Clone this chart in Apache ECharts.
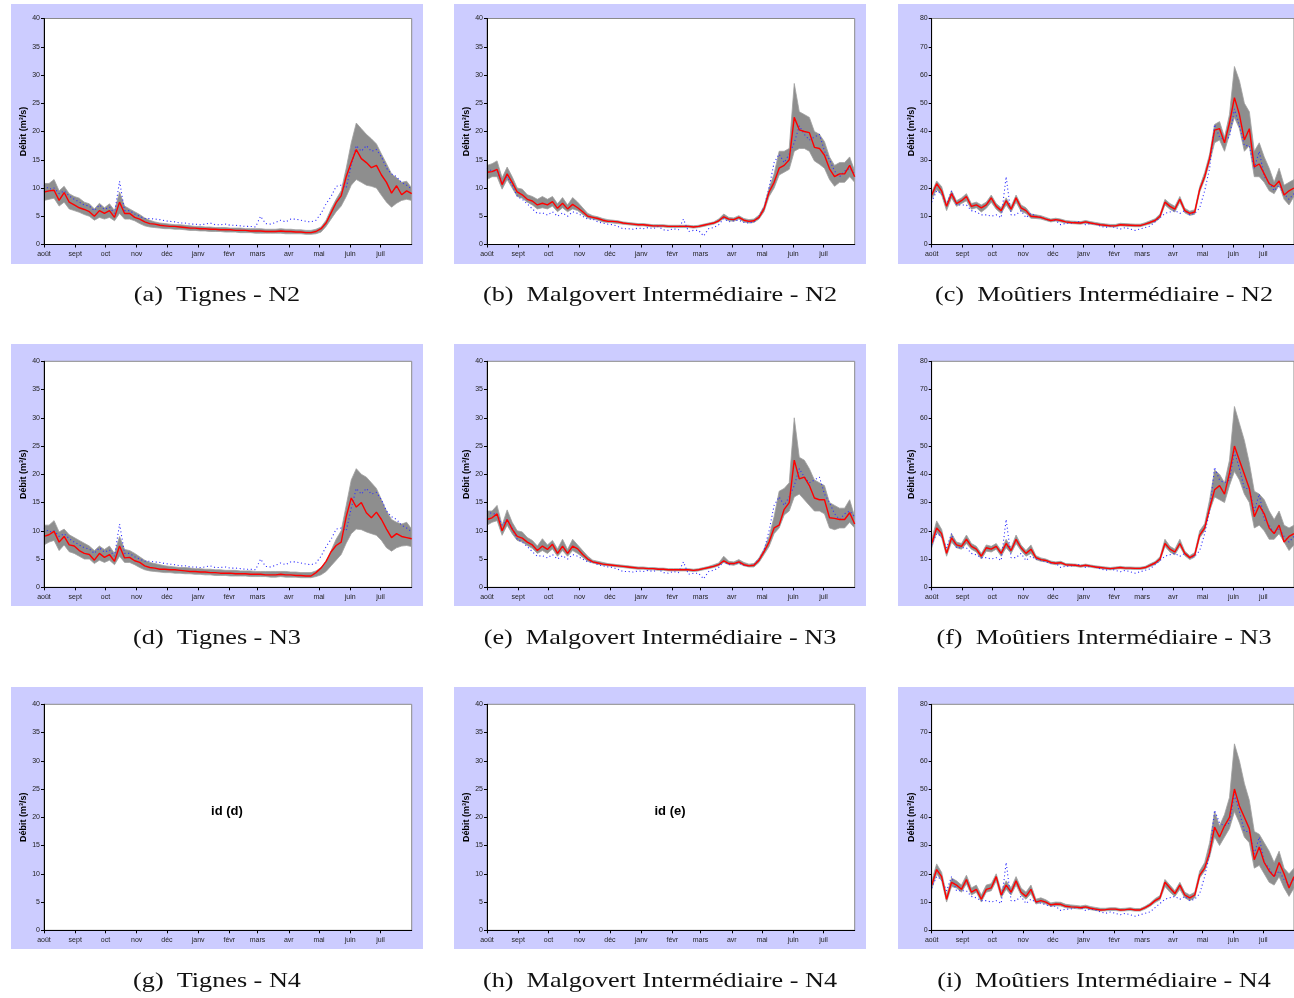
<!DOCTYPE html>
<html><head><meta charset="utf-8">
<script src="https://cdn.jsdelivr.net/npm/echarts@6/dist/echarts.min.js"></script>
<style>html,body{margin:0;padding:0;background:#fff}#c{width:1294px;height:998px}</style>
</head><body><div id="c"></div>
<script>
// sample days (day 0 = 1 août)
const days = [0,5,10,15,20,25,30,35,40,45,50,55,60,65,70,75,80,85,90,95,
100,105,110,115,120,125,130,135,140,145,150,155,160,165,170,175,180,185,190,195,
200,205,210,215,220,225,230,235,240,245,250,255,260,265,270,275,280,285,290,295,
300,305,310,315,320,325,330,335,340,345,350,355,360,365];
const monthNames = ['août','sept','oct','nov','déc','janv','févr','mars','avr','mai','juin','juil'];
const monthStarts = [0,31,61,92,122,153,184,212,243,273,304,334];
const yTicks40 = [0,5,10,15,20,25,30,35,40];
const yTicks80 = [0,10,20,30,40,50,60,70,80];

// ---- Tignes ----
const tigObs = [10.5,9.8,10.0,9.0,9.5,8.6,8.0,7.5,7.0,6.8, 6.0,7.0,6.2,6.6,5.5,11.2,6.0,6.0,5.4,5.0,
4.6,4.6,4.5,4.4,4.2,4.1,4.0,3.8,3.8,3.6, 3.6,3.5,3.6,3.8,3.5,3.5,3.6,3.4,3.4,3.3,
3.2,3.2,3.1,5.0,3.7,3.6,3.9,4.3,4.0,4.5, 4.5,4.3,4.1,4.0,4.3,5.5,7.2,8.5,10.3,10.5,
10.0,14.0,17.5,16.5,17.5,16.5,16.8,15.5,13.5,12.5, 12.0,11.0,10.5,9.8];
const tigN2Mod = [9.3,9.5,9.6,7.8,9.2,7.5,7.0,6.5,6.2,5.8, 5.0,6.0,5.5,6.0,4.8,7.5,5.5,5.5,4.8,4.5,
4.0,3.7,3.6,3.4,3.3,3.2,3.2,3.1,3.0,2.9, 2.9,2.8,2.8,2.7,2.7,2.6,2.6,2.6,2.5,2.5,
2.5,2.4,2.4,2.4,2.3,2.3,2.3,2.4,2.3,2.3, 2.2,2.2,2.1,2.1,2.3,2.8,3.8,5.6,7.4,8.6,
12.0,14.5,16.8,15.2,14.5,13.6,14.0,12.3,11.0,9.1, 10.4,8.8,9.5,9.0];
const tigN2Low = [7.8,8.0,8.2,6.8,7.5,6.3,6.0,5.7,5.3,5.0, 4.3,4.8,4.5,4.8,4.2,5.5,4.5,4.5,4.2,3.7,
3.3,3.1,3.0,2.9,2.8,2.8,2.7,2.7,2.6,2.5, 2.5,2.4,2.4,2.3,2.3,2.3,2.2,2.2,2.2,2.1,
2.1,2.1,2.0,2.0,2.0,2.0,2.0,2.0,1.9,1.9, 1.9,1.9,1.8,1.8,1.9,2.2,3.2,4.5,5.8,6.8,
8.5,10.5,11.5,11.0,10.5,10.3,10.0,8.7,7.5,6.6, 7.3,7.8,8.0,7.8];
const tigN2High = [10.8,10.8,11.5,9.5,10.3,9.0,8.5,8.2,7.5,7.2, 6.3,7.3,6.5,7.2,6.0,9.3,6.8,6.3,5.8,5.3,
4.7,4.3,4.0,3.8,3.7,3.6,3.5,3.5,3.4,3.3, 3.2,3.2,3.1,3.1,3.0,3.0,3.0,2.9,2.9,2.9,
2.8,2.8,2.8,2.8,2.7,2.7,2.7,2.8,2.7,2.7, 2.6,2.6,2.5,2.5,2.7,3.1,4.3,6.3,8.0,9.5,
13.5,18.0,21.5,20.5,19.5,18.7,17.8,16.0,14.3,12.5, 11.8,11.0,11.2,10.0];
const tigN3Mod = [9.0,9.3,9.9,8.0,9.0,7.5,7.3,6.5,6.0,5.8, 4.8,6.0,5.3,5.8,4.6,7.3,5.2,5.3,4.7,4.4,
3.8,3.5,3.4,3.2,3.2,3.1,3.1,3.0,2.9,2.8, 2.8,2.7,2.7,2.6,2.6,2.5,2.5,2.5,2.4,2.4,
2.4,2.3,2.3,2.3,2.2,2.2,2.2,2.3,2.2,2.2, 2.1,2.1,2.0,2.0,2.6,3.4,4.6,6.3,7.4,8.0,
12.5,15.8,14.2,15.0,13.2,12.3,13.3,12.0,10.3,8.8, 9.5,9.0,8.8,8.6];
const tigN3Low = [7.5,8.0,8.3,6.5,7.5,6.3,6.0,5.5,5.0,5.0, 4.2,4.8,4.4,4.8,4.0,5.5,4.4,4.4,4.0,3.5,
3.1,2.9,2.8,2.7,2.6,2.6,2.5,2.5,2.4,2.4, 2.3,2.3,2.2,2.2,2.1,2.1,2.1,2.0,2.0,2.0,
2.0,1.9,1.9,1.9,1.9,1.8,1.8,1.9,1.8,1.8, 1.8,1.7,1.7,1.7,1.9,2.2,2.8,3.8,4.8,5.8,
7.8,9.5,10.3,10.2,9.8,9.5,9.2,8.3,7.0,6.4, 7.0,7.3,7.4,7.2];
const tigN3High = [11.0,11.0,11.8,9.8,10.3,9.3,8.8,8.3,7.8,7.3, 6.5,7.3,6.7,7.3,6.0,9.0,6.7,6.5,6.0,5.4,
4.8,4.4,4.2,4.0,3.8,3.7,3.6,3.5,3.5,3.4, 3.3,3.3,3.2,3.2,3.1,3.1,3.0,3.0,3.0,2.9,
2.9,2.9,2.8,2.8,2.8,2.8,2.8,2.8,2.8,2.7, 2.7,2.6,2.6,2.6,2.9,3.5,4.6,6.5,8.5,10.0,
14.5,19.0,21.0,20.0,19.5,18.5,17.5,15.5,13.5,12.0, 11.5,11.2,11.5,10.3];

// ---- Malgovert Intermédiaire ----
const malObs = [13.5,13.0,13.0,11.0,12.0,10.5,8.5,8.0,7.2,6.3, 5.5,5.6,5.2,5.8,5.0,5.6,5.0,5.8,5.5,5.0,
4.5,4.5,4.0,3.8,3.6,3.5,3.2,2.8,2.8,2.7, 2.9,2.8,3.0,2.8,3.2,2.6,2.5,2.8,2.6,4.5,
2.3,2.5,2.5,1.5,2.8,3.0,3.5,4.6,4.0,4.2, 4.3,3.9,3.8,4.0,5.0,6.5,10.0,14.5,16.0,14.5,
16.0,18.0,21.0,19.5,18.5,19.0,19.5,16.5,15.0,13.0, 12.0,13.0,13.5,12.5];
const malN2Mod = [12.8,12.9,13.3,10.6,12.5,11.0,9.3,8.8,8.0,7.7, 7.0,7.3,7.0,7.6,6.4,7.3,6.3,7.1,6.5,5.8,
5.0,4.8,4.6,4.3,4.1,4.1,4.0,3.8,3.7,3.6, 3.5,3.5,3.4,3.3,3.3,3.3,3.2,3.2,3.2,3.2,
3.2,3.1,3.2,3.4,3.6,3.8,4.2,4.9,4.5,4.4, 4.8,4.3,4.1,4.2,4.8,6.3,9.3,11.0,13.5,14.0,
15.0,22.5,20.3,20.0,19.8,17.2,17.0,15.8,13.4,12.0, 12.5,12.5,14.0,12.0];
const malN2Low = [11.5,12.0,12.0,9.8,11.5,10.0,8.5,8.2,7.5,7.0, 6.3,6.5,6.3,6.8,5.8,6.5,5.8,6.3,6.0,5.3,
4.7,4.5,4.3,4.0,3.9,3.8,3.7,3.6,3.5,3.4, 3.3,3.3,3.2,3.1,3.1,3.1,3.0,3.0,3.0,3.0,
3.0,2.9,3.0,3.2,3.4,3.6,4.0,4.6,4.2,4.1, 4.5,4.0,3.8,3.9,4.5,5.8,8.5,10.0,12.3,12.8,
13.3,16.5,17.0,17.0,16.5,14.8,14.2,13.5,11.5,10.3, 11.0,11.0,12.0,11.0];
const malN2High = [14.0,14.3,14.8,11.8,13.7,12.0,10.0,9.8,8.8,8.5, 8.0,8.5,8.0,8.5,7.2,8.3,7.0,8.3,7.5,6.5,
5.5,5.1,4.9,4.6,4.4,4.3,4.2,4.0,3.9,3.8, 3.7,3.7,3.6,3.5,3.5,3.5,3.4,3.4,3.4,3.4,
3.4,3.3,3.4,3.6,3.8,4.0,4.5,5.4,4.8,4.7, 5.1,4.6,4.4,4.5,5.2,6.8,10.0,12.5,16.5,16.5,
17.0,28.5,23.5,23.0,22.5,20.0,19.5,18.2,15.5,14.0, 14.5,14.5,15.5,13.0];
const malN3Mod = [12.0,12.3,13.0,10.0,12.0,10.3,9.0,8.7,8.0,7.5, 6.5,7.3,6.7,7.6,6.0,7.3,6.0,7.3,6.8,5.8,
5.0,4.5,4.3,4.1,4.0,3.9,3.8,3.7,3.6,3.5, 3.4,3.4,3.3,3.3,3.2,3.2,3.1,3.1,3.1,3.1,
3.1,3.0,3.1,3.3,3.5,3.7,4.0,4.7,4.2,4.2, 4.5,4.0,3.8,3.9,4.8,6.3,8.0,10.5,11.0,13.8,
15.0,22.5,19.2,19.5,18.0,15.8,15.5,15.5,12.3,12.2, 12.0,12.0,13.2,11.2];
const malN3Low = [11.0,11.5,11.8,9.2,11.0,9.5,8.3,8.0,7.4,6.9, 6.0,6.5,6.0,6.8,5.5,6.5,5.5,6.5,6.0,5.3,
4.6,4.3,4.1,3.9,3.8,3.7,3.6,3.5,3.4,3.3, 3.2,3.2,3.1,3.1,3.0,3.0,2.9,2.9,2.9,2.9,
2.9,2.8,2.9,3.1,3.3,3.5,3.8,4.4,4.0,3.9, 4.2,3.8,3.6,3.6,4.4,5.8,7.2,9.5,10.5,12.8,
13.5,16.0,16.5,15.5,14.5,13.5,13.5,13.0,10.5,10.2, 10.5,10.5,11.5,10.5];
const malN3High = [13.5,13.5,14.5,11.0,13.7,11.5,10.0,9.8,8.8,8.3, 7.3,8.6,7.5,8.3,6.8,8.5,6.7,8.5,7.5,6.5,
5.5,4.8,4.6,4.4,4.2,4.1,4.0,3.9,3.8,3.7, 3.6,3.6,3.5,3.5,3.4,3.4,3.3,3.3,3.3,3.3,
3.3,3.2,3.3,3.5,3.7,4.0,4.3,5.5,4.6,4.5, 4.9,4.4,4.1,4.2,5.2,6.8,9.0,12.5,17.0,17.5,
18.5,30.0,23.0,22.5,21.0,19.0,18.5,18.0,15.0,14.5, 14.0,14.0,15.5,12.5];

// ---- Moûtiers Intermédiaire ----
const mouObs = [15.0,19.0,18.0,14.0,19.0,14.0,14.0,14.0,12.0,11.5, 10.5,10.5,10.0,10.5,9.5,24.0,10.5,10.5,12.0,9.5,
11.0,10.0,9.6,9.0,8.5,8.5,7.0,7.5,7.5,8.0, 8.0,7.0,7.5,7.2,6.5,6.0,6.5,6.0,5.5,6.0,
5.5,5.0,5.5,6.0,6.5,8.0,9.5,11.0,11.5,12.0, 11.0,12.0,10.5,11.0,13.0,19.0,27.0,42.5,38.0,37.0,
38.0,48.0,42.0,35.0,35.0,27.0,33.0,24.0,22.0,19.0, 21.0,18.0,16.0,18.0];
const mouN2Mod = [17.5,21.5,19.0,13.5,18.0,14.5,15.5,17.0,13.5,14.0, 13.0,14.0,16.5,13.5,12.0,15.5,12.5,16.5,13.0,12.0,
10.0,9.8,9.6,9.0,8.5,8.8,8.5,8.0,7.8,7.7, 7.6,8.0,7.6,7.3,7.0,6.8,6.6,6.6,7.0,6.9,
6.8,6.7,6.7,7.2,7.8,8.5,10.0,15.0,13.5,12.5, 16.0,12.0,11.0,11.5,19.5,24.0,30.5,40.5,41.0,36.0,
43.0,52.0,46.0,37.0,41.0,27.5,28.5,25.0,21.5,20.5, 22.5,17.5,19.0,20.0];
const mouN2Low = [16.0,19.5,17.5,12.0,16.5,13.5,14.5,15.5,12.5,13.0, 11.5,12.8,15.0,12.5,11.0,14.0,11.5,15.0,11.8,11.0,
9.3,9.2,9.0,8.5,8.0,8.3,8.0,7.6,7.4,7.3, 7.2,7.5,7.2,6.9,6.6,6.4,6.2,6.2,6.6,6.5,
6.4,6.3,6.3,6.8,7.3,8.0,9.3,14.0,12.5,11.5, 15.0,11.2,10.3,10.7,18.5,23.0,29.0,36.0,37.0,33.0,
39.0,45.0,41.0,33.0,35.0,24.0,24.0,22.0,19.0,18.0, 21.0,16.0,14.0,17.0];
const mouN2High = [18.5,22.5,20.5,14.5,19.0,15.5,16.5,18.0,14.5,15.0, 14.0,15.0,17.5,14.5,13.0,16.5,13.5,17.5,14.0,13.0,
10.8,10.5,10.2,9.6,9.0,9.3,9.0,8.5,8.3,8.2, 8.1,8.5,8.1,7.8,7.5,7.3,7.1,7.1,7.5,7.4,
7.3,7.2,7.2,7.7,8.4,9.1,10.8,16.0,14.5,13.5, 17.0,12.8,11.8,12.3,20.5,25.5,32.0,42.5,43.5,38.0,
46.0,63.0,58.0,50.0,47.0,33.0,36.0,31.0,27.0,22.0, 27.0,21.0,22.0,23.0];
const mouN3Mod = [15.5,21.0,19.0,12.0,17.5,15.0,14.5,17.0,14.5,13.5, 11.0,14.0,13.5,14.5,12.0,15.5,13.0,17.0,14.0,12.0,
13.5,10.5,9.8,9.5,8.8,8.5,8.7,8.0,7.9,7.8, 7.5,7.8,7.5,7.2,7.0,6.8,6.6,6.8,7.0,6.8,
6.8,6.7,6.7,7.0,7.8,8.6,10.0,15.5,13.5,12.5, 15.5,12.0,10.5,11.5,18.5,21.0,28.0,34.5,36.0,33.0,
40.5,50.0,45.0,40.0,35.0,25.0,29.0,26.0,21.0,19.0, 22.0,16.0,18.0,19.0];
const mouN3Low = [14.0,19.5,17.5,11.0,16.0,14.0,13.5,15.5,13.5,12.5, 10.0,12.8,12.5,13.5,11.0,14.0,12.0,15.5,13.0,11.0,
12.0,9.8,9.2,9.0,8.3,8.0,8.2,7.6,7.5,7.4, 7.1,7.4,7.1,6.8,6.6,6.4,6.2,6.4,6.6,6.4,
6.4,6.3,6.3,6.6,7.3,8.1,9.3,14.5,12.5,11.5, 14.5,11.2,9.8,10.7,17.5,20.0,27.0,32.0,31.0,30.0,
36.0,41.0,38.0,33.0,30.0,21.0,22.0,20.0,17.0,17.0, 19.0,16.0,13.0,15.0];
const mouN3High = [17.0,23.5,20.5,13.0,19.0,16.0,15.5,18.5,15.5,14.5, 12.0,15.0,14.5,15.5,13.0,17.0,14.0,18.5,15.0,13.0,
15.0,11.2,10.4,10.0,9.3,9.0,9.2,8.4,8.3,8.2, 7.9,8.2,7.9,7.6,7.4,7.2,7.0,7.2,7.4,7.2,
7.2,7.1,7.1,7.4,8.3,9.1,10.8,17.0,14.5,13.5, 17.0,12.8,11.2,12.3,20.0,22.5,31.0,41.5,40.0,37.0,
45.0,64.0,58.0,52.0,44.0,34.0,33.0,31.0,27.0,24.0, 27.0,22.0,21.0,22.0];
const mouN4Mod = [16.0,21.5,19.0,11.0,17.0,16.0,14.5,18.0,13.5,14.5, 11.0,14.5,15.0,19.0,12.5,16.0,13.5,17.5,13.5,12.0,
14.5,10.0,10.5,10.0,9.0,9.3,9.2,8.5,8.3,8.2, 8.0,8.3,7.8,7.5,7.2,7.3,7.5,7.5,7.2,7.3,
7.5,7.2,7.2,8.0,9.0,10.5,11.5,17.0,15.0,13.0, 16.0,12.5,11.5,12.5,19.5,22.0,27.5,36.5,33.0,37.0,
40.0,50.0,44.0,40.0,36.0,25.0,29.5,24.0,21.0,19.0, 24.0,20.0,15.0,19.0];
const mouN4Low = [14.5,20.0,17.5,10.0,15.5,15.0,13.5,16.5,12.5,13.5, 10.0,13.5,14.0,17.5,11.5,14.5,12.5,16.0,12.5,11.0,
13.0,9.3,9.8,9.3,8.5,8.7,8.6,8.0,7.8,7.7, 7.5,7.8,7.3,7.0,6.8,6.9,7.0,7.0,6.8,6.9,
7.0,6.8,6.8,7.5,8.5,9.8,10.8,15.5,13.5,12.0, 14.5,11.5,10.5,11.5,18.5,21.0,26.0,33.0,30.0,33.0,
36.0,42.0,38.0,33.0,31.0,22.0,23.0,20.0,17.0,16.0, 19.0,15.0,12.0,15.0];
const mouN4High = [17.5,23.5,20.5,12.5,18.5,17.5,16.0,19.5,15.0,16.0, 12.5,16.0,16.5,20.0,14.0,17.5,15.0,19.0,15.0,13.5,
16.0,11.0,11.5,10.8,9.7,10.0,9.9,9.2,9.0,8.8, 8.6,8.9,8.4,8.1,7.8,7.8,8.0,8.0,7.7,7.8,
8.0,7.7,7.7,8.5,9.6,11.2,12.3,18.0,16.0,14.0, 17.0,13.5,12.5,13.5,21.0,24.0,31.0,42.0,37.0,41.0,
47.0,66.0,60.0,52.0,46.0,35.0,34.0,31.0,28.0,24.0, 28.0,22.0,20.0,22.0];

const captions = [
  '(a)  Tignes - N2','(b)  Malgovert Intermédiaire - N2','(c)  Moûtiers Intermédiaire - N2',
  '(d)  Tignes - N3','(e)  Malgovert Intermédiaire - N3','(f)  Moûtiers Intermédiaire - N3',
  '(g)  Tignes - N4','(h)  Malgovert Intermédiaire - N4','(i)  Moûtiers Intermédiaire - N4'
];

const panels = [
  {low:tigN2Low, high:tigN2High, mod:tigN2Mod, obs:tigObs, yMax:40},
  {low:malN2Low, high:malN2High, mod:malN2Mod, obs:malObs, yMax:40},
  {low:mouN2Low, high:mouN2High, mod:mouN2Mod, obs:mouObs, yMax:80},
  {low:tigN3Low, high:tigN3High, mod:tigN3Mod, obs:tigObs, yMax:40},
  {low:malN3Low, high:malN3High, mod:malN3Mod, obs:malObs, yMax:40},
  {low:mouN3Low, high:mouN3High, mod:mouN3Mod, obs:mouObs, yMax:80},
  {note:'id (d)', yMax:40},
  {note:'id (e)', yMax:40},
  {low:mouN4Low, high:mouN4High, mod:mouN4Mod, obs:mouObs, yMax:80}
];

// layout
const plotLeft = [44, 487, 931.7];
const plotTop = [18.5, 361.3, 704.3];
const plotW = 367.7, plotH = 226;
const bgLeft = [11, 454, 898];
const bgTop = [4, 344, 687];
const bgBottom = [264, 606, 949];
const capY = [295, 638, 981];

const grids = [], xAxes = [], yAxes = [], series = [], graphics = [];
const axisFont = 'Liberation Sans';

// grey band drawn as one polygon through the axes' own coordinate system
function bandRender(lowArr, highArr) {
  return function (params, api) {
    const pts = [];
    for (let k = 0; k < days.length; k++) pts.push(api.coord([days[k], highArr[k]]));
    for (let k = days.length - 1; k >= 0; k--) pts.push(api.coord([days[k], lowArr[k]]));
    return {type:'polygon', shape:{points:pts}, style:{fill:'#8e8e8e', stroke:'#a0a0a0', lineWidth:0.8}};
  };
}

panels.forEach((p, i) => {
  const c = i % 3, r = Math.floor(i / 3);
  graphics.push({type:'rect', z:-10, shape:{x:bgLeft[c], y:bgTop[r], width:412, height:bgBottom[r]-bgTop[r]}, style:{fill:'#ccccff'}});
  const cx = bgLeft[c] + 206;
  graphics.push({type:'text', z:10, x:cx, y:capY[r], scaleX:1.19,
    style:{text:captions[i], font:'22px "Liberation Serif"', fill:'#111', align:'center', verticalAlign:'middle', textAlign:'center', textVerticalAlign:'middle'}});
  if (p.note) {
    graphics.push({type:'text', z:10, x:plotLeft[c]+183, y:plotTop[r]+107,
      style:{text:p.note, font:'bold 13px "Liberation Sans"', fill:'#000', align:'center', verticalAlign:'middle', textAlign:'center', textVerticalAlign:'middle'}});
  }
  grids.push({left:plotLeft[c], top:plotTop[r], width:plotW, height:plotH, show:true,
    backgroundColor:'#ffffff', borderColor:'#8a8a8a', borderWidth:1, containLabel:false});
  xAxes.push({type:'value', gridIndex:i, min:0, max:365, z:10,
    axisLine:{show:true, onZero:false, lineStyle:{color:'#000', width:1}},
    axisTick:{show:true, length:3, customValues:monthStarts, lineStyle:{color:'#000'}},
    axisLabel:{customValues:monthStarts, fontSize:7, fontFamily:axisFont, color:'#222', margin:6,
      formatter:(v)=>monthNames[monthStarts.indexOf(v)]},
    splitLine:{show:false}});
  const yt = p.yMax === 80 ? yTicks80 : yTicks40;
  yAxes.push({type:'value', gridIndex:i, min:0, max:p.yMax, interval:yt[1]-yt[0], z:10,
    name:'Débit (m³/s)', nameLocation:'middle', nameGap:15,
    nameTextStyle:{fontSize:9, fontWeight:'bold', fontFamily:axisFont, color:'#000'},
    axisLine:{show:true, lineStyle:{color:'#000', width:1}},
    axisTick:{show:true, length:3, lineStyle:{color:'#000'}},
    axisLabel:{fontSize:7, fontFamily:axisFont, color:'#222', margin:4},
    splitLine:{show:false}});
  if (p.low) {
    series.push({type:'custom', xAxisIndex:i, yAxisIndex:i, silent:true, z:2, clip:true,
      data:[[0, 0]], encode:{x:0, y:1}, renderItem:bandRender(p.low, p.high)});
    series.push({type:'line', xAxisIndex:i, yAxisIndex:i, symbol:'none', silent:true, z:3,
      lineStyle:{color:'#3030ff', width:1.1, type:[1.1,2.6]}, data:days.map((d,k)=>[d, p.obs[k]])});
    series.push({type:'line', xAxisIndex:i, yAxisIndex:i, symbol:'none', silent:true, z:4,
      lineStyle:{color:'#ff0000', width:1.4}, data:days.map((d,k)=>[d, p.mod[k]])});
  }
});

const chart = echarts.init(document.getElementById('c'), null, {renderer:'canvas'});
chart.setOption({
  animation:false,
  backgroundColor:'#ffffff',
  grid:grids, xAxis:xAxes, yAxis:yAxes, series:series,
  graphic:{elements:graphics}
});
</script></body></html>
